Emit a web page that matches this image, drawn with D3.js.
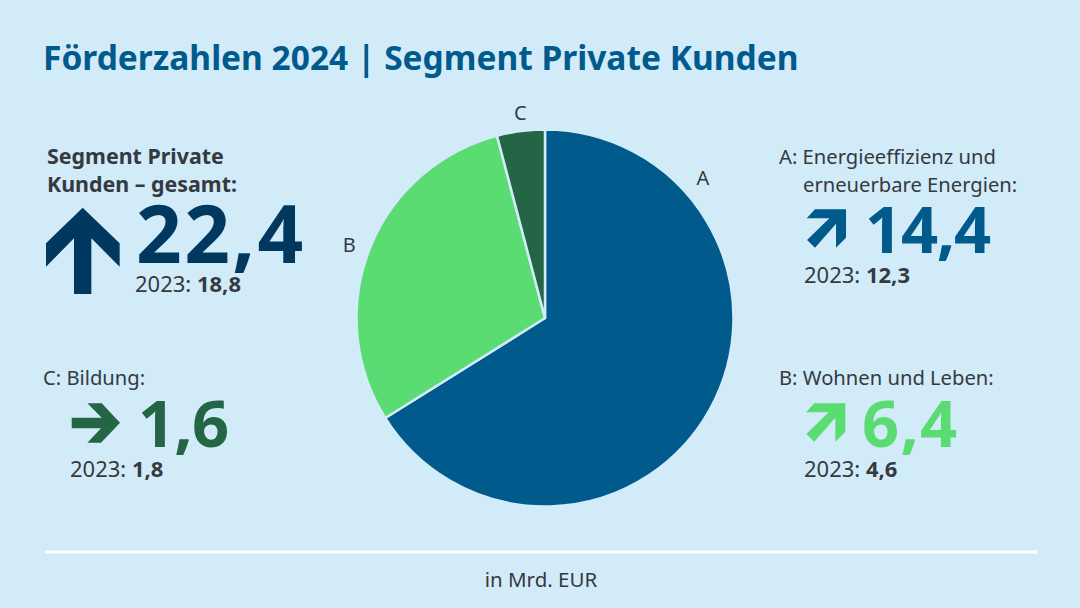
<!DOCTYPE html>
<html>
<head>
<meta charset="utf-8">
<script src="https://cdn.jsdelivr.net/npm/d3@7"></script>
<style>
    html, body { margin: 0; padding: 0; background: #d2ebf8; }
    svg { display: block; }
    text { font-family: "Noto Sans", sans-serif; fill: #343a40; }
</style>
</head>
<body>
<svg id="chart" width="1080" height="608"></svg>
<script>
// share of the circle each slice takes in the picture (percent)
const sliceNames = ["A", "B", "C"]
const sliceShares = [66.1, 29.8, 4.1]
const sliceColors = ["#005a8c", "#5adc73", "#246546"]

const bigValues = ["22,4", "14,4", "6,4", "1,6"]
const priorValues = ["18,8", "12,3", "4,6", "1,8"]
const priorLabel = "2023: "

const titleText = "Förderzahlen 2024 | Segment Private Kunden"
const unitText = "in Mrd. EUR"

const svg = d3.select("#chart")
const cx = 545, cy = 318, radius = 188.5

svg.append("text").attr("x", 43).attr("y", 70)
    .attr("font-size", 33.5).attr("font-weight", 700)
    .style("fill", "#005a8c").text(titleText)

// pie
const pie = d3.pie().sort(null).value(d => d.share)
const arc = d3.arc().innerRadius(0).outerRadius(radius)
const slices = pie(sliceNames.map((n, i) => ({ name: n, share: sliceShares[i], color: sliceColors[i] })))

const pieG = svg.append("g").attr("transform", `translate(${cx},${cy})`)
pieG.selectAll("path").data(slices).join("path")
    .attr("d", arc)
    .attr("fill", d => d.data.color)
    .attr("stroke", "#d2ebf8")
    .attr("stroke-width", 2.5)
    .attr("stroke-linejoin", "round")

// slice letters sit off the rim, not on the slice centre
const labelAngles = [0.845, 5.069, -0.12]
const labelRadius = [211, 209, 207]
pieG.selectAll("text").data(slices).join("text")
    .attr("x", (d, i) => Math.sin(labelAngles[i]) * labelRadius[i])
    .attr("y", (d, i) => -Math.cos(labelAngles[i]) * labelRadius[i] + 7)
    .attr("text-anchor", "middle")
    .attr("font-size", 20)
    .text(d => d.data.name)

function label(x, y, str, weight) {
    svg.append("text").attr("x", x).attr("y", y)
        .attr("font-size", weight ? 21.4 : 20.2).attr("font-weight", weight || 400)
        .text(str)
}

function bigNumber(x, y, str, color, size, spacing) {
    svg.append("text").attr("x", x).attr("y", y)
        .attr("font-size", size).attr("font-weight", 700)
        .attr("letter-spacing", spacing)
        .style("fill", color).text(str)
}

function prior(x, y, val) {
    const t = svg.append("text").attr("x", x).attr("y", y).attr("font-size", 22)
    t.append("tspan").text(priorLabel)
    t.append("tspan").attr("font-weight", 700).text(val)
}

// arrow outlines, traced in zoomed-crop units (3 units = 1 px)
const upOutline = [[110, 0], [221, 107], [221, 177], [136, 92], [136, 259], [84, 259], [84, 92], [0, 177], [0, 107]]
const rightOutline = [[47, 0], [90, 0], [145, 58], [88, 118], [47, 118], [88, 75], [0, 75], [0, 43], [90, 43]]
const cornerOutline = [[25, 0], [118, 0], [118, 85], [88, 115], [88, 43], [25, 115], [1, 92], [68, 27], [0, 27]]

function arrow(x, y, outline, color) {
    const line = d3.line().x(d => d[0] / 3).y(d => d[1] / 3)
    svg.append("path").attr("d", line(outline) + "Z")
        .attr("transform", `translate(${x},${y})`)
        .attr("fill", color)
}

// left, total
label(47, 164, "Segment Private", 700)
label(47, 192, "Kunden – gesamt:", 700)
arrow(46, 207.7, upOutline, "#00385f")
bigNumber(136, 263, bigValues[0], "#00385f", 80, 2.4)
prior(135, 292, priorValues[0])

// left, C
label(43, 385, "C: Bildung:")
arrow(71.7, 403.3, rightOutline, "#246546")
bigNumber(138, 447, bigValues[3], "#246546", 65, -0.9)
prior(70, 477, priorValues[3])

// right, A
label(779, 164, "A: Energieeffizienz und")
label(803, 192, "erneuerbare Energien:")
arrow(806.7, 209.3, cornerOutline, sliceColors[0])
bigNumber(865, 253, bigValues[1], sliceColors[0], 65, -1.3)
prior(804, 283, priorValues[1])

// right, B
label(779, 385, "B: Wohnen und Leben:")
arrow(806, 403.3, cornerOutline, sliceColors[1])
bigNumber(862, 447, bigValues[2], sliceColors[1], 65, 1.2)
prior(804, 477, priorValues[2])

// footer
svg.append("line").attr("x1", 45).attr("x2", 1037).attr("y1", 552).attr("y2", 552)
    .attr("stroke", "#ffffff").attr("stroke-width", 3)
svg.append("text").attr("x", 541).attr("y", 587).attr("text-anchor", "middle")
    .attr("font-size", 20.5).text(unitText)
</script>
</body>
</html>
